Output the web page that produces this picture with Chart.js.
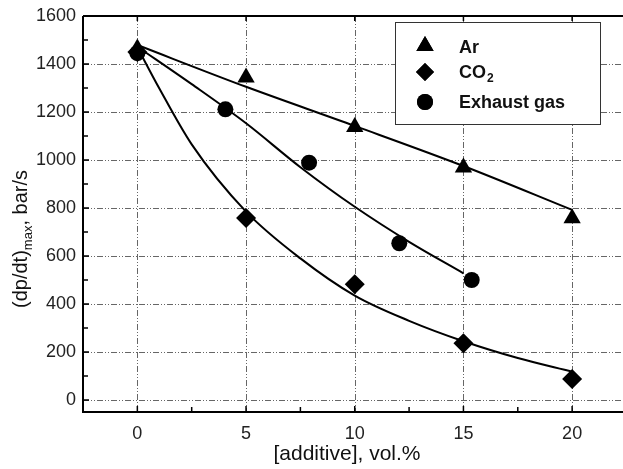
<!DOCTYPE html>
<html>
<head>
<meta charset="utf-8">
<script src="https://cdn.jsdelivr.net/npm/chart.js@4"></script>
<style>
  html, body { margin: 0; padding: 0; background: #fff; overflow: hidden; }
  canvas { display: block; }
</style>
</head>
<body>
<canvas id="chart" width="623" height="469"></canvas>
<script>
// Tick values
const xTicks = [0, 5, 10, 15, 20];
const xMinor = [2.5, 7.5, 12.5, 17.5];
const yTicks = [0, 200, 400, 600, 800, 1000, 1200, 1400, 1600];
const yMinor = [100, 300, 500, 700, 900, 1100, 1300, 1500];

// Measured points
const arX = [0, 5, 10, 15, 20];
const arY = [1465, 1344, 1137, 969, 757];
const co2X = [0, 5, 10, 15, 20];
const co2Y = [1450, 758, 482, 236, 88];
const gasX = [0, 4.05, 7.9, 12.05, 15.38];
const gasY = [1445, 1211, 989, 653, 500];

// Fitted curves
const arFitX = [0, 5, 10, 15, 20];
const arFitY = [1479, 1305, 1142, 975, 792];
const co2FitX = [0, 1, 2.5, 5, 7.5, 10, 12.5, 15, 17.5, 20];
const co2FitY = [1470, 1300, 1065, 785, 590, 435, 330, 245, 175, 118];
const gasFitX = [0, 2.5, 5, 7.5, 10, 12.5, 15];
const gasFitY = [1472, 1316, 1153, 970, 805, 659, 528];

const toPts = (xs, ys) => xs.map((x, i) => ({ x: x, y: ys[i] }));

const fitLine = (xs, ys) => ({
    type: 'line',
    data: toPts(xs, ys),
    borderColor: '#000',
    borderWidth: 2,
    pointRadius: 0,
    cubicInterpolationMode: 'monotone',
    fill: false
});

const markers = (xs, ys, style, r) => ({
    type: 'scatter',
    data: toPts(xs, ys),
    pointStyle: style,
    pointRadius: r,
    backgroundColor: '#000',
    borderColor: '#000',
    borderWidth: 0
});

// grid lines with dash-dot-dot pattern, under the data
const gridPlugin = {
    id: 'gridPlugin',
    beforeDatasetsDraw(chart) {
        const { ctx, chartArea: a, scales: { x, y } } = chart;
        ctx.save();
        ctx.strokeStyle = '#666';
        ctx.lineWidth = 1;
        ctx.setLineDash([6, 2, 1, 2, 1, 2]);
        xTicks.forEach(v => {
            const px = Math.round(x.getPixelForValue(v)) + 0.5;
            ctx.beginPath(); ctx.moveTo(px, a.top); ctx.lineTo(px, a.bottom); ctx.stroke();
        });
        yTicks.forEach(v => {
            if (v >= 1600) return;
            const py = Math.round(y.getPixelForValue(v)) + 0.5;
            ctx.beginPath(); ctx.moveTo(a.left, py); ctx.lineTo(a.right, py); ctx.stroke();
        });
        ctx.restore();
    }
};

// axis frame, inward ticks, titles and legend
const framePlugin = {
    id: 'framePlugin',
    afterDraw(chart) {
        const { ctx, chartArea: a, scales: { x, y } } = chart;
        ctx.save();
        ctx.strokeStyle = '#000';
        ctx.lineWidth = 2;
        ctx.beginPath();
        ctx.moveTo(a.left, a.top); ctx.lineTo(a.right, a.top);
        ctx.moveTo(a.left, a.top); ctx.lineTo(a.left, a.bottom);
        ctx.lineTo(a.right, a.bottom);
        ctx.stroke();

        ctx.lineWidth = 1.5;
        ctx.beginPath();
        yTicks.forEach(v => { const p = y.getPixelForValue(v); ctx.moveTo(a.left, p); ctx.lineTo(a.left + 6, p); });
        yMinor.forEach(v => { const p = y.getPixelForValue(v); ctx.moveTo(a.left, p); ctx.lineTo(a.left + 5, p); });
        xTicks.forEach(v => {
            const p = x.getPixelForValue(v);
            ctx.moveTo(p, a.bottom); ctx.lineTo(p, a.bottom - 6);
            ctx.moveTo(p, a.top); ctx.lineTo(p, a.top + 5);
        });
        xMinor.forEach(v => { const p = x.getPixelForValue(v); ctx.moveTo(p, a.bottom); ctx.lineTo(p, a.bottom - 5); });
        ctx.stroke();

        // x title
        ctx.fillStyle = '#111';
        ctx.font = '21px "Liberation Sans", Arial, sans-serif';
        ctx.textAlign = 'center';
        ctx.textBaseline = 'alphabetic';
        ctx.fillText('[additive], vol.%', 347, 460);

        // y title with subscript
        const big = '20px "Liberation Sans", Arial, sans-serif';
        const small = '13px "Liberation Sans", Arial, sans-serif';
        ctx.font = big; const w1 = ctx.measureText('(dp/dt)').width;
        const w3 = ctx.measureText(', bar/s').width;
        ctx.font = small; const w2 = ctx.measureText('max').width;
        const tot = w1 + w2 + w3;
        ctx.translate(27, 239);
        ctx.rotate(-Math.PI / 2);
        ctx.textAlign = 'left';
        let cx = -tot / 2;
        ctx.font = big; ctx.fillText('(dp/dt)', cx, 0); cx += w1;
        ctx.font = small; ctx.fillText('max', cx, 5); cx += w2;
        ctx.font = big; ctx.fillText(', bar/s', cx, 0);
        ctx.setTransform(1, 0, 0, 1, 0, 0);

        // legend box
        ctx.fillStyle = '#fff';
        ctx.fillRect(395, 22, 205, 102);
        ctx.strokeStyle = '#333';
        ctx.lineWidth = 1;
        ctx.strokeRect(395.5, 22.5, 205, 102);
        ctx.fillStyle = '#000';
        ctx.strokeStyle = '#000';
        const h = Chart.helpers;
        h.drawPoint(ctx, { pointStyle: 'triangle', radius: 10, borderWidth: 0 }, 425, 46);
        ctx.fill();
        h.drawPoint(ctx, { pointStyle: 'rectRot', radius: 9, borderWidth: 0 }, 425, 72);
        ctx.fill();
        h.drawPoint(ctx, { pointStyle: 'circle', radius: 8, borderWidth: 0 }, 425, 102);
        ctx.fill();
        ctx.font = 'bold 18px "Liberation Sans", Arial, sans-serif';
        ctx.textAlign = 'left';
        ctx.fillStyle = '#111';
        ctx.fillText('Ar', 459, 53);
        ctx.fillText('CO', 459, 78);
        const wco = ctx.measureText('CO').width;
        ctx.font = 'bold 12px "Liberation Sans", Arial, sans-serif';
        ctx.fillText('2', 459 + wco + 1, 82);
        ctx.font = 'bold 18px "Liberation Sans", Arial, sans-serif';
        ctx.fillText('Exhaust gas', 459, 108);
        ctx.restore();
    }
};

const ctx = document.getElementById('chart').getContext('2d');
new Chart(ctx, {
    data: {
        datasets: [
            fitLine(arFitX, arFitY),
            fitLine(co2FitX, co2FitY),
            fitLine(gasFitX, gasFitY),
            markers(arX, arY, 'triangle', 10),
            markers(co2X, co2Y, 'rectRot', 10),
            markers(gasX, gasY, 'circle', 8)
        ]
    },
    options: {
        responsive: false,
        animation: false,
        layout: { autoPadding: false, padding: { top: 16, right: 0, left: 0, bottom: 0 } },
        plugins: { legend: { display: false }, tooltip: { enabled: false } },
        scales: {
            x: {
                type: 'linear',
                min: -2.5,
                max: 22.34,
                afterBuildTicks: s => { s.ticks = xTicks.map(v => ({ value: v })); },
                afterFit: s => { s.height = 57; s.paddingLeft = 0; s.paddingRight = 0; },
                grid: { display: false, drawTicks: false },
                border: { display: false },
                ticks: {
                    padding: 11,
                    color: '#222',
                    callback: v => String(v),
                    font: { family: '"Liberation Sans", Arial, sans-serif', size: 18 }
                }
            },
            y: {
                type: 'linear',
                min: -50,
                max: 1600,
                afterBuildTicks: s => { s.ticks = yTicks.map(v => ({ value: v })); },
                afterFit: s => { s.width = 83; s.paddingTop = 0; s.paddingBottom = 0; },
                grid: { display: false, drawTicks: false },
                border: { display: false },
                ticks: {
                    padding: 7,
                    color: '#222',
                    callback: v => String(v),
                    font: { family: '"Liberation Sans", Arial, sans-serif', size: 18 }
                }
            }
        }
    },
    plugins: [gridPlugin, framePlugin]
});
</script>
</body>
</html>
